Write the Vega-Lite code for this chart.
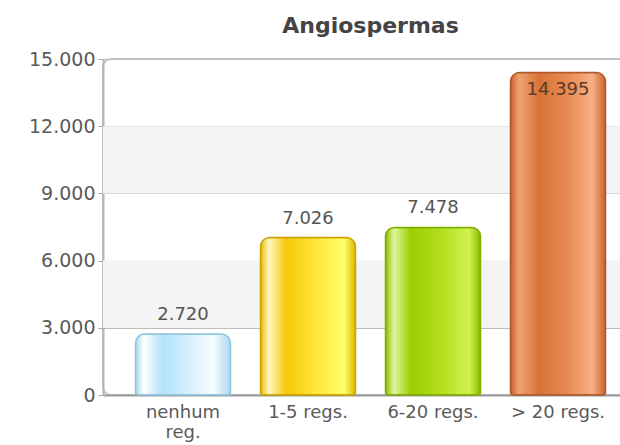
{
  "$schema": "https://vega.github.io/schema/vega-lite/v6.json",
  "autosize": "none",
  "width": 535,
  "height": 336,
  "padding": {"left": 103, "top": 59, "right": 0, "bottom": 50},
  "background": "white",
  "config": {
    "font": "DejaVu Sans",
    "view": {"stroke": "#c4c4c4", "strokeWidth": 2, "cornerRadius": 8}
  },
  "title": {
    "text": "Angiospermas",
    "font": "DejaVu Sans",
    "fontSize": 22,
    "fontWeight": "bold",
    "color": "#444444",
    "anchor": "middle",
    "offset": 12
  },
  "datasets": {
    "cats": [
      {"cat": "nenhum reg.", "value": 2720},
      {"cat": "1-5 regs.", "value": 7026},
      {"cat": "6-20 regs.", "value": 7478},
      {"cat": "> 20 regs.", "value": 14395}
    ],
    "bands": [
      {"from": 3000, "to": 6000},
      {"from": 9000, "to": 12000}
    ]
  },
  "data": {"name": "cats"},
  "encoding": {
    "x": {
      "field": "cat",
      "type": "nominal",
      "sort": null,
      "scale": {"paddingInner": 0.24, "paddingOuter": 0.26},
      "axis": {
        "title": null,
        "labelAngle": 0,
        "labelFont": "DejaVu Sans",
        "labelFontSize": 18,
        "labelColor": "#5a5a5a",
        "labelPadding": 8,
        "labelLineHeight": 20,
        "ticks": false,
        "domainColor": "#9a9a9a",
        "domainWidth": 2,
        "labelExpr": "datum.label == 'nenhum reg.' ? ['nenhum', 'reg.'] : datum.label"
      }
    }
  },
  "layer": [
    {
      "data": {"name": "bands"},
      "mark": {"type": "rect", "color": "#f4f4f4"},
      "encoding": {
        "x": null,
        "y": {
          "field": "from",
          "type": "quantitative",
          "title": null,
          "scale": {"domain": [0, 15000], "nice": false},
          "axis": {
            "title": null,
            "values": [0, 3000, 6000, 9000, 12000, 15000],
            "labelExpr": "replace(format(datum.value, ','), ',', '.')",
            "labelFont": "DejaVu Sans",
            "labelFontSize": 19,
            "labelColor": "#5a5a5a",
            "labelPadding": 3,
            "tickSize": 5,
            "tickColor": "#aaaaaa",
            "domainColor": "#b5b5b5",
            "domainWidth": 2,
            "grid": true,
            "gridColor": "#bdbdbd",
            "gridWidth": 1
          }
        },
        "y2": {"field": "to"}
      }
    },
    {
      "transform": [{"filter": "datum.cat == 'nenhum reg.'"}],
      "mark": {
        "type": "bar",
        "cornerRadiusTopLeft": 9, "cornerRadiusTopRight": 9,
        "cornerRadiusBottomLeft": 3, "cornerRadiusBottomRight": 3,
        "stroke": "#8fc4dc", "strokeWidth": 1.5,
        "color": {
          "gradient": "linear", "x1": 0, "x2": 1, "y1": 0, "y2": 0,
          "stops": [
            {"offset": 0, "color": "#a9d9f1"},
            {"offset": 0.09, "color": "#ffffff"},
            {"offset": 0.28, "color": "#b3e2fa"},
            {"offset": 0.82, "color": "#f7fcff"},
            {"offset": 1, "color": "#a9d9f1"}
          ]
        }
      },
      "encoding": {"y": {"field": "value", "type": "quantitative", "title": null}}
    },
    {
      "transform": [{"filter": "datum.cat == '1-5 regs.'"}],
      "mark": {
        "type": "bar",
        "cornerRadiusTopLeft": 9, "cornerRadiusTopRight": 9,
        "cornerRadiusBottomLeft": 3, "cornerRadiusBottomRight": 3,
        "stroke": "#c9a200", "strokeWidth": 1.5,
        "color": {
          "gradient": "linear", "x1": 0, "x2": 1, "y1": 0, "y2": 0,
          "stops": [
            {"offset": 0, "color": "#e6bc00"},
            {"offset": 0.09, "color": "#fff6c0"},
            {"offset": 0.27, "color": "#f6c80a"},
            {"offset": 0.55, "color": "#ffe233"},
            {"offset": 0.88, "color": "#ffff6a"},
            {"offset": 1, "color": "#e2b800"}
          ]
        }
      },
      "encoding": {"y": {"field": "value", "type": "quantitative", "title": null}}
    },
    {
      "transform": [{"filter": "datum.cat == '6-20 regs.'"}],
      "mark": {
        "type": "bar",
        "cornerRadiusTopLeft": 9, "cornerRadiusTopRight": 9,
        "cornerRadiusBottomLeft": 3, "cornerRadiusBottomRight": 3,
        "stroke": "#7fae00", "strokeWidth": 1.5,
        "color": {
          "gradient": "linear", "x1": 0, "x2": 1, "y1": 0, "y2": 0,
          "stops": [
            {"offset": 0, "color": "#8cbf00"},
            {"offset": 0.09, "color": "#def7a0"},
            {"offset": 0.27, "color": "#9ccd00"},
            {"offset": 0.6, "color": "#b4e020"},
            {"offset": 0.88, "color": "#d2f250"},
            {"offset": 1, "color": "#88bb00"}
          ]
        }
      },
      "encoding": {"y": {"field": "value", "type": "quantitative", "title": null}}
    },
    {
      "transform": [{"filter": "datum.cat == '> 20 regs.'"}],
      "mark": {
        "type": "bar",
        "cornerRadiusTopLeft": 9, "cornerRadiusTopRight": 9,
        "cornerRadiusBottomLeft": 3, "cornerRadiusBottomRight": 3,
        "stroke": "#b05a2c", "strokeWidth": 1.5,
        "color": {
          "gradient": "linear", "x1": 0, "x2": 1, "y1": 0, "y2": 0,
          "stops": [
            {"offset": 0, "color": "#c8622f"},
            {"offset": 0.09, "color": "#f0a272"},
            {"offset": 0.3, "color": "#d87338"},
            {"offset": 0.6, "color": "#e88a52"},
            {"offset": 0.86, "color": "#f7b084"},
            {"offset": 1, "color": "#c8622f"}
          ]
        }
      },
      "encoding": {"y": {"field": "value", "type": "quantitative", "title": null}}
    },
    {
      "transform": [{"filter": "datum.value < 13000"}],
      "mark": {"type": "text", "font": "DejaVu Sans", "fontSize": 18, "color": "#555555", "baseline": "alphabetic", "dy": -14},
      "encoding": {
        "y": {"field": "value", "type": "quantitative", "title": null},
        "text": {"field": "label"}
      }
    },
    {
      "transform": [{"filter": "datum.value >= 13000"}],
      "mark": {"type": "text", "font": "DejaVu Sans", "fontSize": 18, "color": "#5a3a2a", "baseline": "top", "dy": 8},
      "encoding": {
        "y": {"field": "value", "type": "quantitative", "title": null},
        "text": {"field": "label"}
      }
    }
  ],
  "transform": [
    {"calculate": "replace(format(datum.value, ','), ',', '.')", "as": "label"}
  ]
}
